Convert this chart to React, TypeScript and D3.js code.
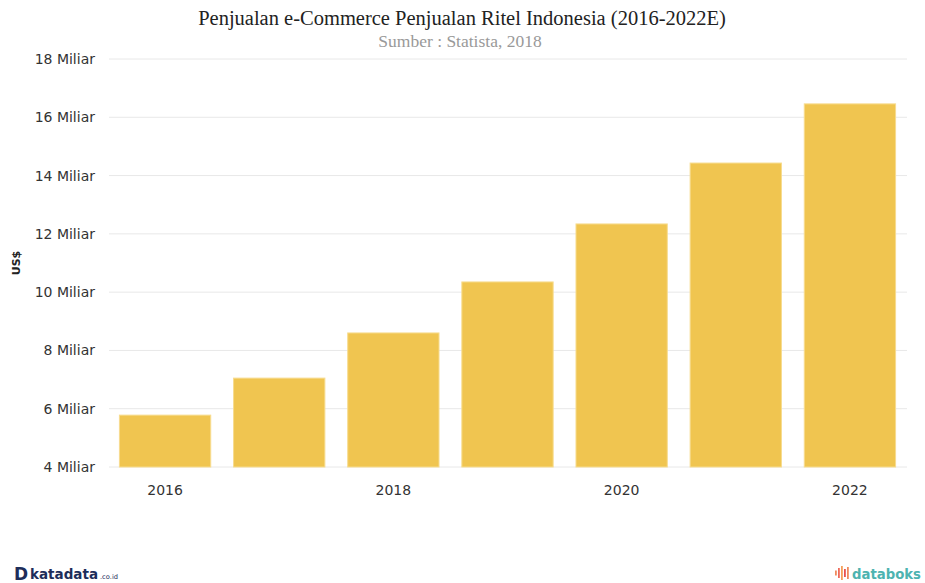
import React from "react";
import * as d3 from "d3";

const years = ["2016", "2017", "2018", "2019", "2020", "2021", "2022"];
const values = [5.78, 7.05, 8.6, 10.35, 12.34, 14.43, 16.46];
const yTicks = [4, 6, 8, 10, 12, 14, 16, 18];
const xTickLabels = ["2016", "2018", "2020", "2022"];
const title = "Penjualan e-Commerce Penjualan Ritel Indonesia (2016-2022E)";
const subtitle = "Sumber : Statista, 2018";

const W = 925;
const H = 583;
const left = 108;
const right = 907;
const top = 59;
const bottom = 467;

export default function App() {
  const x = d3.scaleBand<string>().domain(years).range([left, right]).paddingInner(0.2).paddingOuter(0.1);
  const y = d3.scaleLinear().domain([4, 18]).range([bottom, top]);
  const font = "Verdana, 'DejaVu Sans', sans-serif";
  const serif = "'Liberation Serif', 'Times New Roman', serif";
  return (
    <div style={{ position: "fixed", left: 0, top: 0 }}>
      <svg width={W} height={H} style={{ display: "block", background: "#fff" }}>
        <text x={462} y={25} textAnchor="middle" fontFamily={serif} fontSize={20.5} fill="#222">
          {title}
        </text>
        <text x={460} y={47} textAnchor="middle" fontFamily={serif} fontSize={17.5} fill="#999">
          {subtitle}
        </text>
        {yTicks.map((t) => (
          <g key={t}>
            <line x1={left + 1} x2={right} y1={y(t)} y2={y(t)} stroke="#e8e8e8" strokeWidth={1} />
            <text x={95} y={y(t) + 5} textAnchor="end" fontFamily={font} fontSize={14} fill="#333">
              {`${t} Miliar`}
            </text>
          </g>
        ))}
        <text
          transform={`translate(20, 263) rotate(-90)`}
          textAnchor="middle"
          fontFamily={font}
          fontSize={11}
          fontWeight="bold"
          fill="#222"
        >
          US$
        </text>
        {years.map((yr, i) => (
          <rect
            key={yr}
            x={x(yr)}
            y={y(values[i])}
            width={x.bandwidth()}
            height={y(4) - y(values[i])}
            fill="#f0c550"
            stroke="#f7dc8f"
            strokeWidth={1}
          />
        ))}
        {xTickLabels.map((yr) => (
          <text
            key={yr}
            x={(x(yr) as number) + x.bandwidth() / 2}
            y={495}
            textAnchor="middle"
            fontFamily={font}
            fontSize={14}
            fill="#333"
          >
            {yr}
          </text>
        ))}
        <g>
          <text x={14} y={580} fontFamily={font} fontSize={17} fontWeight="bold" fill="#1d2d5a">
            D
          </text>
          <text x={30} y={579} fontFamily={font} fontSize={14} fontWeight="bold" fill="#1d2d5a" textLength={68} lengthAdjust="spacingAndGlyphs">
            katadata
          </text>
          <text x={100} y={579} fontFamily={font} fontSize={6.5} fill="#1d2d5a" textLength={18} lengthAdjust="spacingAndGlyphs">
            .co.id
          </text>
        </g>
        <g>
          {[
            { dx: 0, h: 5, c: "#f08a5d" },
            { dx: 3, h: 10, c: "#ef6a5a" },
            { dx: 6, h: 14, c: "#f5a05a" },
            { dx: 9, h: 8, c: "#e8504f" },
            { dx: 12, h: 12, c: "#f08a5d" },
          ].map((b, i) => (
            <rect key={i} x={835 + b.dx} y={573 - b.h / 2} width={1.8} height={b.h} fill={b.c} />
          ))}
          <text x={852} y={579} fontFamily={font} fontSize={14} fontWeight="bold" fill="#4db3b0" textLength={69} lengthAdjust="spacingAndGlyphs">
            databoks
          </text>
        </g>
      </svg>
    </div>
  );
}
